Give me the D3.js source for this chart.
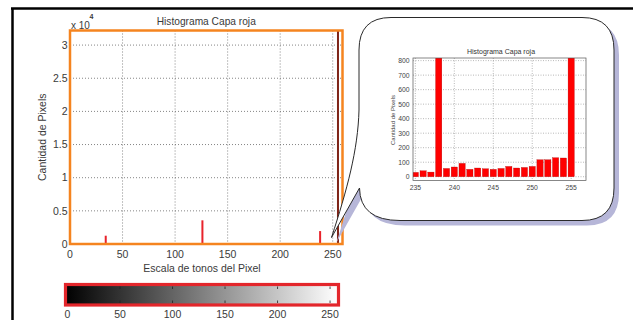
<!DOCTYPE html>
<html>
<head>
<meta charset="utf-8">
<script src="https://cdn.jsdelivr.net/npm/d3@7"></script>
<style>
  html, body { margin: 0; padding: 0; background: #fff; }
  svg { display: block; font-family: 'Liberation Sans', Arial, sans-serif; }
</style>
</head>
<body>
<svg id="chart" width="636" height="320"></svg>
<script>
// histogram counts, full red channel (0..255) - only visible spikes + zoomed range
const spikeBins = [34, 126]
const spikeCounts = [1250, 3570]

// zoomed range 235..255 (238 and 255 overflow the inset)
const zoomBins = [235, 236, 237, 238, 239, 240, 241, 242, 243, 244, 245, 246, 247, 248, 249, 250, 251, 252, 253, 254, 255]
const zoomCounts = [30, 41, 32, 1950, 57, 67, 92, 51, 60, 55, 51, 57, 71, 60, 64, 71, 117, 117, 131, 129, 41000]

const mainXTicks = [0, 50, 100, 150, 200, 250]
const mainYTicks = [0, 5000, 10000, 15000, 20000, 25000, 30000]
const zoomXTicks = [235, 240, 245, 250, 255]
const zoomYTicks = [0, 100, 200, 300, 400, 500, 600, 700, 800]
const barTicks = [0, 50, 100, 150, 200, 250]

const title = 'Histograma Capa roja'
const yTitle = 'Cantidad de Pixels'
const xTitle = 'Escala de tonos del Pixel'

const svg = d3.select('#chart')
const textColor = '#3a3a3a'

// page frame
svg.append('line').attr('x1', 11).attr('x2', 633).attr('y1', 8.5).attr('y2', 8.5)
  .attr('stroke', '#000').attr('stroke-width', 2.5)
svg.append('line').attr('x1', 12.5).attr('x2', 12.5).attr('y1', 8).attr('y2', 320)
  .attr('stroke', '#000').attr('stroke-width', 2.5)

// ---------- main histogram ----------
const main = { left: 70, right: 342.5, top: 30.5, bottom: 244 }
const x = d3.scaleLinear().domain([0, 259.3]).range([main.left, main.right])
const y = d3.scaleLinear().domain([0, 32200]).range([main.bottom, main.top])

const mainData = spikeBins.map((b, i) => ({ bin: b, count: spikeCounts[i] }))
  .concat(zoomBins.map((b, i) => ({ bin: b, count: zoomCounts[i] })))

const g = svg.append('g')

g.append('rect')
  .attr('x', main.left).attr('y', main.top)
  .attr('width', main.right - main.left).attr('height', main.bottom - main.top)
  .attr('fill', '#fff')

// grid
g.selectAll('.vgrid').data(mainXTicks.slice(1)).join('line')
  .attr('x1', d => x(d)).attr('x2', d => x(d))
  .attr('y1', main.top).attr('y2', main.bottom)
  .attr('stroke', '#666').attr('stroke-width', 0.8).attr('stroke-dasharray', '1,2')
g.selectAll('.hgrid').data(mainYTicks.slice(1)).join('line')
  .attr('x1', main.left).attr('x2', main.right)
  .attr('y1', d => y(d)).attr('y2', d => y(d))
  .attr('stroke', '#666').attr('stroke-width', 0.8).attr('stroke-dasharray', '1,2')

// spikes
const clip = svg.append('clipPath').attr('id', 'main-clip')
clip.append('rect').attr('x', main.left).attr('y', main.top)
  .attr('width', main.right - main.left).attr('height', main.bottom - main.top)

g.append('g').attr('clip-path', 'url(#main-clip)')
  .selectAll('rect').data(mainData).join('rect')
  .attr('x', d => x(d.bin) - 1)
  .attr('width', 2)
  .attr('y', d => y(d.count))
  .attr('height', d => y(0) - y(d.count))
  .attr('fill', d => d.bin === 255 ? '#7e2418' : '#e8232b')

// orange highlight border
g.append('rect')
  .attr('x', main.left).attr('y', main.top)
  .attr('width', main.right - main.left).attr('height', main.bottom - main.top)
  .attr('fill', 'none').attr('stroke', '#f5841f').attr('stroke-width', 2.5)

// tick labels
g.selectAll('.ylab').data(mainYTicks).join('text')
  .attr('x', 67.5).attr('y', d => y(d)).attr('dy', '0.36em')
  .attr('text-anchor', 'end').attr('font-size', 10.5).attr('fill', textColor)
  .text(d => d / 10000)
g.selectAll('.xlab').data(mainXTicks).join('text')
  .attr('x', d => x(d)).attr('y', 258)
  .attr('text-anchor', 'middle').attr('font-size', 10.5).attr('fill', textColor)
  .text(d => d)

// exponent
g.append('text').attr('x', 71).attr('y', 28.5)
  .attr('font-size', 10).attr('fill', textColor).text('x 10')
g.append('text').attr('x', 89.5).attr('y', 19)
  .attr('font-size', 7).attr('font-weight', 'bold').attr('fill', textColor).text('4')

// titles
g.append('text').attr('x', (main.left + main.right) / 2).attr('y', 24.5)
  .attr('text-anchor', 'middle').attr('font-size', 10.2).attr('fill', textColor).text(title)
g.append('text').attr('x', 202).attr('y', 272)
  .attr('text-anchor', 'middle').attr('font-size', 10.5).attr('fill', textColor).text(xTitle)
g.append('text')
  .attr('transform', 'translate(45.5,' + (main.top + main.bottom) / 2 + ') rotate(-90)')
  .attr('text-anchor', 'middle').attr('font-size', 10.5).attr('fill', textColor).text(yTitle)

// ---------- gray level bar ----------
const cb = d3.scaleLinear().domain([0, 255]).range([67.5, 335.3])
const grad = svg.append('defs').append('linearGradient').attr('id', 'gray')
grad.append('stop').attr('offset', '0%').attr('stop-color', '#000')
grad.append('stop').attr('offset', '100%').attr('stop-color', '#fff')

g.append('rect').attr('x', 65.5).attr('y', 284.5).attr('width', 273).attr('height', 20.5)
  .attr('fill', 'url(#gray)').attr('stroke', '#e3262b').attr('stroke-width', 3.2)
g.selectAll('.cbtick').data(barTicks.slice(1)).join('path')
  .attr('d', d => `M${cb(d)},286.5v2.5M${cb(d)},303v-2.5`)
  .attr('stroke', '#222').attr('stroke-width', 0.8)
g.selectAll('.cblab').data(barTicks).join('text')
  .attr('x', d => cb(d)).attr('y', 318)
  .attr('text-anchor', 'middle').attr('font-size', 10.5).attr('fill', textColor)
  .text(d => d)

// ---------- callout ----------
const calloutPath = 'M391,17.5 H582 Q614,17.5 614,50 V188 Q614,220.5 582,220.5 H400 ' +
  'Q360,220.5 359.5,188 L331.5,237.5 C347,190 358,150 359,110 V50 Q359,17.5 391,17.5 Z'

svg.append('path').attr('d', calloutPath)
  .attr('transform', 'translate(5,5)')
  .attr('fill', '#b6b6d8')
svg.append('path').attr('d', calloutPath)
  .attr('fill', '#fff').attr('stroke', '#2a2a2a').attr('stroke-width', 1)

// ---------- inset histogram ----------
const ins = { left: 413, right: 586, top: 58, bottom: 180.5 }
const xi = d3.scaleLinear().domain([234.7, 256.9]).range([ins.left, ins.right])
const yi = d3.scaleLinear().domain([-26, 818]).range([ins.bottom, ins.top])
const bw = (xi(1) - xi(0)) * 0.8

const gi = svg.append('g')

gi.selectAll('.vgrid').data(zoomXTicks).join('line')
  .attr('x1', d => xi(d)).attr('x2', d => xi(d))
  .attr('y1', ins.top).attr('y2', ins.bottom)
  .attr('stroke', '#888').attr('stroke-width', 0.6).attr('stroke-dasharray', '1,1.5')
gi.selectAll('.hgrid').data(zoomYTicks).join('line')
  .attr('x1', ins.left).attr('x2', ins.right)
  .attr('y1', d => yi(d)).attr('y2', d => yi(d))
  .attr('stroke', '#888').attr('stroke-width', 0.6).attr('stroke-dasharray', '1,1.5')

const iclip = svg.append('clipPath').attr('id', 'inset-clip')
iclip.append('rect').attr('x', ins.left).attr('y', ins.top)
  .attr('width', ins.right - ins.left).attr('height', ins.bottom - ins.top)

gi.append('g').attr('clip-path', 'url(#inset-clip)')
  .selectAll('rect').data(zoomBins.map((b, i) => ({ bin: b, count: zoomCounts[i] }))).join('rect')
  .attr('x', d => xi(d.bin) - bw / 2)
  .attr('width', bw)
  .attr('y', d => yi(Math.min(d.count, 900)))
  .attr('height', d => yi(0) - yi(Math.min(d.count, 900)))
  .attr('fill', '#ff0000').attr('stroke', '#a00').attr('stroke-width', 0.3)

gi.append('rect')
  .attr('x', ins.left).attr('y', ins.top)
  .attr('width', ins.right - ins.left).attr('height', ins.bottom - ins.top)
  .attr('fill', 'none').attr('stroke', '#555').attr('stroke-width', 0.7)

gi.selectAll('.ylab').data(zoomYTicks).join('text')
  .attr('x', 409.5).attr('y', d => yi(d)).attr('dy', '0.36em')
  .attr('text-anchor', 'end').attr('font-size', 6.8).attr('fill', '#444')
  .text(d => d)
gi.selectAll('.xlab').data(zoomXTicks).join('text')
  .attr('x', d => xi(d)).attr('y', 189.5)
  .attr('text-anchor', 'middle').attr('font-size', 6.8).attr('fill', '#444')
  .text(d => d)

gi.append('text').attr('x', 501).attr('y', 53.5)
  .attr('text-anchor', 'middle').attr('font-size', 7).attr('fill', '#333').text(title)
gi.append('text')
  .attr('transform', 'translate(395,120) rotate(-90)')
  .attr('text-anchor', 'middle').attr('font-size', 6).attr('fill', '#444').text(yTitle)
</script>
</body>
</html>
